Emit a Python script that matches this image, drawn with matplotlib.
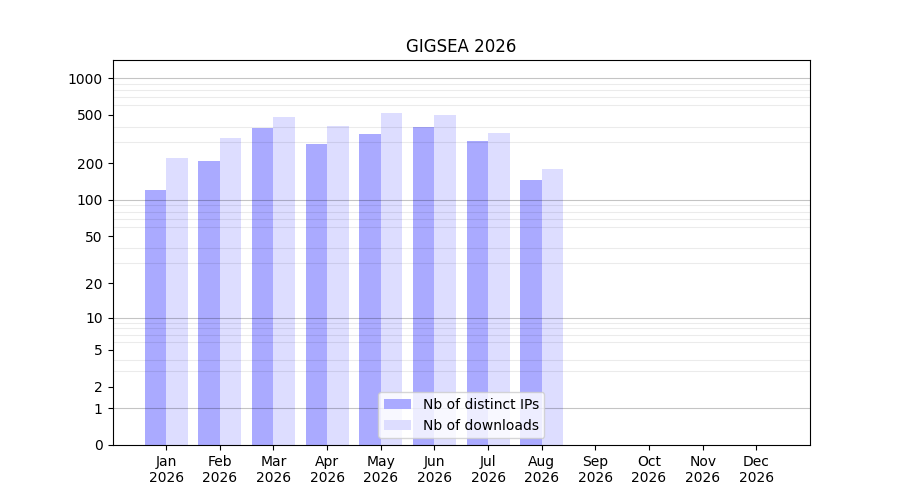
import numpy as np
import matplotlib
matplotlib.use("Agg")
import matplotlib.pyplot as plt

months = ["Jan\n2026", "Feb\n2026", "Mar\n2026", "Apr\n2026", "May\n2026", "Jun\n2026",
          "Jul\n2026", "Aug\n2026", "Sep\n2026", "Oct\n2026", "Nov\n2026", "Dec\n2026"]
distinct_ips = [120, 208, 388, 288, 347, 395, 304, 145, 0, 0, 0, 0]
downloads = [220, 320, 478, 404, 516, 497, 354, 178, 0, 0, 0, 0]
yticks = [0, 1, 2, 5, 10, 20, 50, 100, 200, 500, 1000]

fig, ax = plt.subplots(figsize=(9, 5), dpi=100)
ax.set_yscale("function", functions=(lambda v: np.log10(1 + np.clip(v, 0, None)),
                                     lambda v: 10 ** v - 1))

x = np.arange(len(months))
ax.bar(x, distinct_ips, width=-0.4, align="edge", color="#aaaaff", label="Nb of distinct IPs")
ax.bar(x, downloads, width=0.4, align="edge", color="#ddddff", label="Nb of downloads")

# light lines at every 1..9 x 10^k, darker at the decades (drawn over the bars)
minor = [m * 10 ** k for k in range(4) for m in range(2, 10)]
ax.set_yticks(minor, minor=True)
ax.tick_params(axis="y", which="minor", length=0)
ax.grid(which="minor", axis="y", color="black", alpha=0.08, linewidth=0.8)
for d in [1, 10, 100, 1000]:
    ax.axhline(d, color="black", alpha=0.23, linewidth=0.8, zorder=1.5)

ax.set_yticks(yticks)
ax.set_yticklabels([str(t) for t in yticks])
ax.set_ylim(0, 1405)
ax.set_xticks(x)
ax.set_xticklabels(months)
ax.set_xlim(-1, 12)
ax.set_title("GIGSEA 2026")
ax.legend(loc="lower center")

fig.savefig("out.png", dpi=100)
